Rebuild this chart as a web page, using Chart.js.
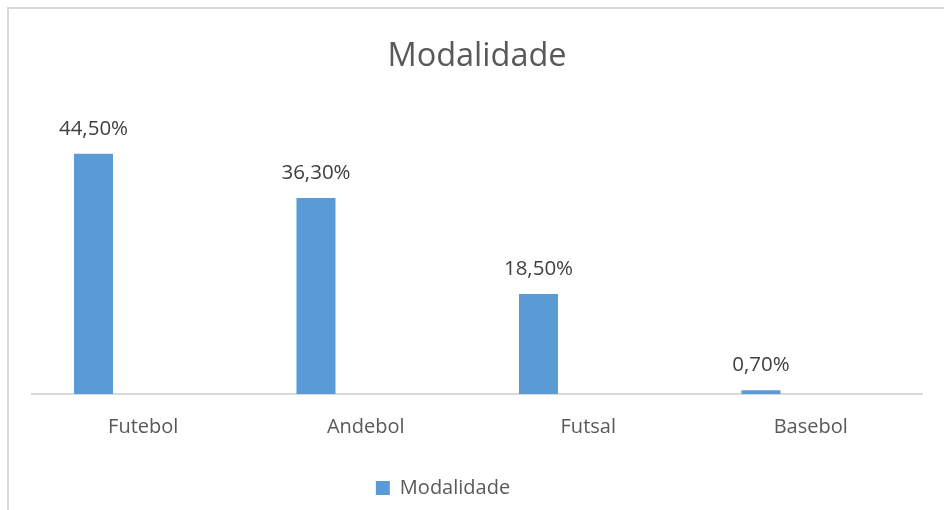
<!DOCTYPE html>
<html>
<head>
<meta charset="utf-8">
<script src="https://cdn.jsdelivr.net/npm/chart.js@4/dist/chart.umd.min.js"></script>
<style>
  html, body { margin: 0; padding: 0; background: #fff; }
  #frame { position: absolute; left: 7px; top: 7px; width: 1000px; height: 600px; border: 2px solid #d9d9d9; box-sizing: border-box; }
  #wrap { position: absolute; left: 0; top: 0; width: 944px; height: 510px; }
</style>
</head>
<body>
<div id="frame"></div>
<div id="wrap"><canvas id="chart"></canvas></div>
<script>
// Valores (percentagens)
const categorias = ['Futebol', 'Andebol', 'Futsal', 'Basebol'];
const modalidade = [44.5, 36.3, 18.5, 0.7];
const vazio = [null, null, null, null];

const fmtPct = v => v.toFixed(2).replace('.', ',') + '%';

// rótulos por cima das barras
const rotulos = {
  id: 'rotulos',
  afterDatasetsDraw(chart) {
    const ctx = chart.ctx;
    const meta = chart.getDatasetMeta(0);
    ctx.save();
    ctx.font = '20.5px "Open Sans"';
    ctx.fillStyle = '#404040';
    ctx.textAlign = 'center';
    ctx.textBaseline = 'middle';
    meta.data.forEach((bar, i) => {
      ctx.fillText(fmtPct(modalidade[i]), bar.x, bar.y - 25);
    });
    ctx.restore();
  }
};

const transparente = 'rgba(0,0,0,0)';

new Chart(document.getElementById('chart'), {
  type: 'bar',
  data: {
    labels: categorias,
    datasets: [
      { label: 'Modalidade', data: modalidade, backgroundColor: '#5B9BD5', borderWidth: 0 },
      // séries vazias (só ocupam espaço no agrupamento e na legenda)
      { label: '', data: vazio, backgroundColor: transparente, borderColor: transparente, borderWidth: 0 },
      { label: '', data: vazio, backgroundColor: transparente, borderColor: transparente, borderWidth: 0 }
    ]
  },
  options: {
    responsive: true,
    maintainAspectRatio: false,
    animation: false,
    categoryPercentage: 0.671,
    barPercentage: 0.784,
    layout: { padding: { left: 32, right: 22, top: 10, bottom: 2 } },
    plugins: {
      title: {
        display: true, text: 'Modalidade', color: '#595959',
        font: { family: 'Open Sans', size: 32.5, weight: 'normal' },
        padding: { top: 27, bottom: 48 }
      },
      legend: {
        position: 'bottom',
        labels: {
          color: '#595959', font: { family: 'Open Sans', size: 20 },
          boxWidth: 14, boxHeight: 14
        }
      },
      tooltip: { enabled: false }
    },
    scales: {
      x: {
        grid: { display: false },
        border: { color: '#d9d9d9', width: 2 },
        ticks: { color: '#595959', font: { family: 'Open Sans', size: 20 }, padding: 13 },
        afterFit(scale) { scale.height += 16; }
      },
      y: { display: false, min: 0, max: 50 }
    }
  },
  plugins: [rotulos]
});
</script>
</body>
</html>
